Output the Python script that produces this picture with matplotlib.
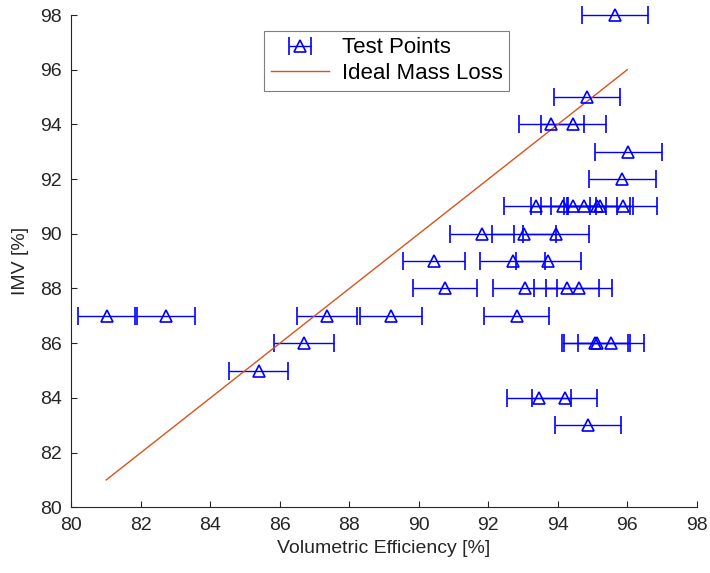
import matplotlib
matplotlib.use("Agg")
import matplotlib.pyplot as plt

plt.rcParams['font.family'] = ['Liberation Sans', 'DejaVu Sans']

# test points: volumetric efficiency vs IMV, with horizontal error
vol_eff = [95.65, 94.84, 93.81, 94.45, 96.03, 95.86,
           93.37, 94.16, 94.45, 94.76, 95.14, 95.22, 95.89,
           91.82, 93.03, 93.95,
           90.44, 92.70, 93.73,
           90.75, 93.06, 94.26, 94.62,
           81.01, 82.72, 87.35, 89.19, 92.82,
           86.70, 95.07, 95.14, 95.53,
           85.39,
           93.46, 94.20,
           94.88]
imv = [98, 95, 94, 94, 93, 92,
       91, 91, 91, 91, 91, 91, 91,
       90, 90, 90,
       89, 89, 89,
       88, 88, 88, 88,
       87, 87, 87, 87, 87,
       86, 86, 86, 86,
       85,
       84, 84,
       83]
vol_err = [0.96, 0.95, 0.94, 0.94, 0.96, 0.96,
           0.93, 0.94, 0.94, 0.95, 0.95, 0.95, 0.96,
           0.92, 0.93, 0.94,
           0.90, 0.93, 0.94,
           0.91, 0.93, 0.94, 0.95,
           0.81, 0.83, 0.87, 0.89, 0.93,
           0.87, 0.95, 0.95, 0.96,
           0.85,
           0.93, 0.94,
           0.95]

ideal_x = [81, 96]
ideal_y = [81, 96]

dark = '#262626'

fig = plt.figure(figsize=(7.10, 5.73), dpi=100)
ax = fig.add_axes([0.1007, 0.1147, 0.8806, 0.8591])

eb = ax.errorbar(vol_eff, imv, xerr=vol_err, fmt='^', color='blue',
                 mfc='none', ms=9, mew=1.2, elinewidth=1, capsize=6.5,
                 label='Test Points')
for a in eb.lines[:2]:
    if a is not None:
        if isinstance(a, tuple):
            for b in a:
                b.set_clip_on(False)
        else:
            a.set_clip_on(False)
for a in eb.lines[2]:
    a.set_clip_on(False)
ln, = ax.plot(ideal_x, ideal_y, color='#D95319', lw=1, label='Ideal Mass Loss')

ax.set_xlim(80, 98)
ax.set_ylim(80, 98)
ax.set_xticks(range(80, 99, 2))
ax.set_yticks(range(80, 99, 2))
ax.tick_params(direction='in', length=4, width=0.8, colors=dark,
               labelsize=14, pad=7)
for s in ['top', 'right']:
    ax.spines[s].set_visible(False)
for s in ['left', 'bottom']:
    ax.spines[s].set_color(dark)
    ax.spines[s].set_linewidth(0.8)

ax.set_xlabel('Volumetric Efficiency [%]', fontsize=14, color=dark)
ax.set_ylabel('IMV [%]', fontsize=14, color=dark, labelpad=8)

leg = ax.legend([eb, ln], ['Test Points', 'Ideal Mass Loss'],
                loc='upper left', bbox_to_anchor=(0.308, 0.968),
                fontsize=16, fancybox=False, framealpha=1,
                edgecolor='#7f7f7f', borderaxespad=0, handlelength=2.6,
                borderpad=0.3, labelspacing=0.2, handletextpad=0.6)
leg.get_frame().set_linewidth(0.8)

fig.savefig('out.png', dpi=100)
